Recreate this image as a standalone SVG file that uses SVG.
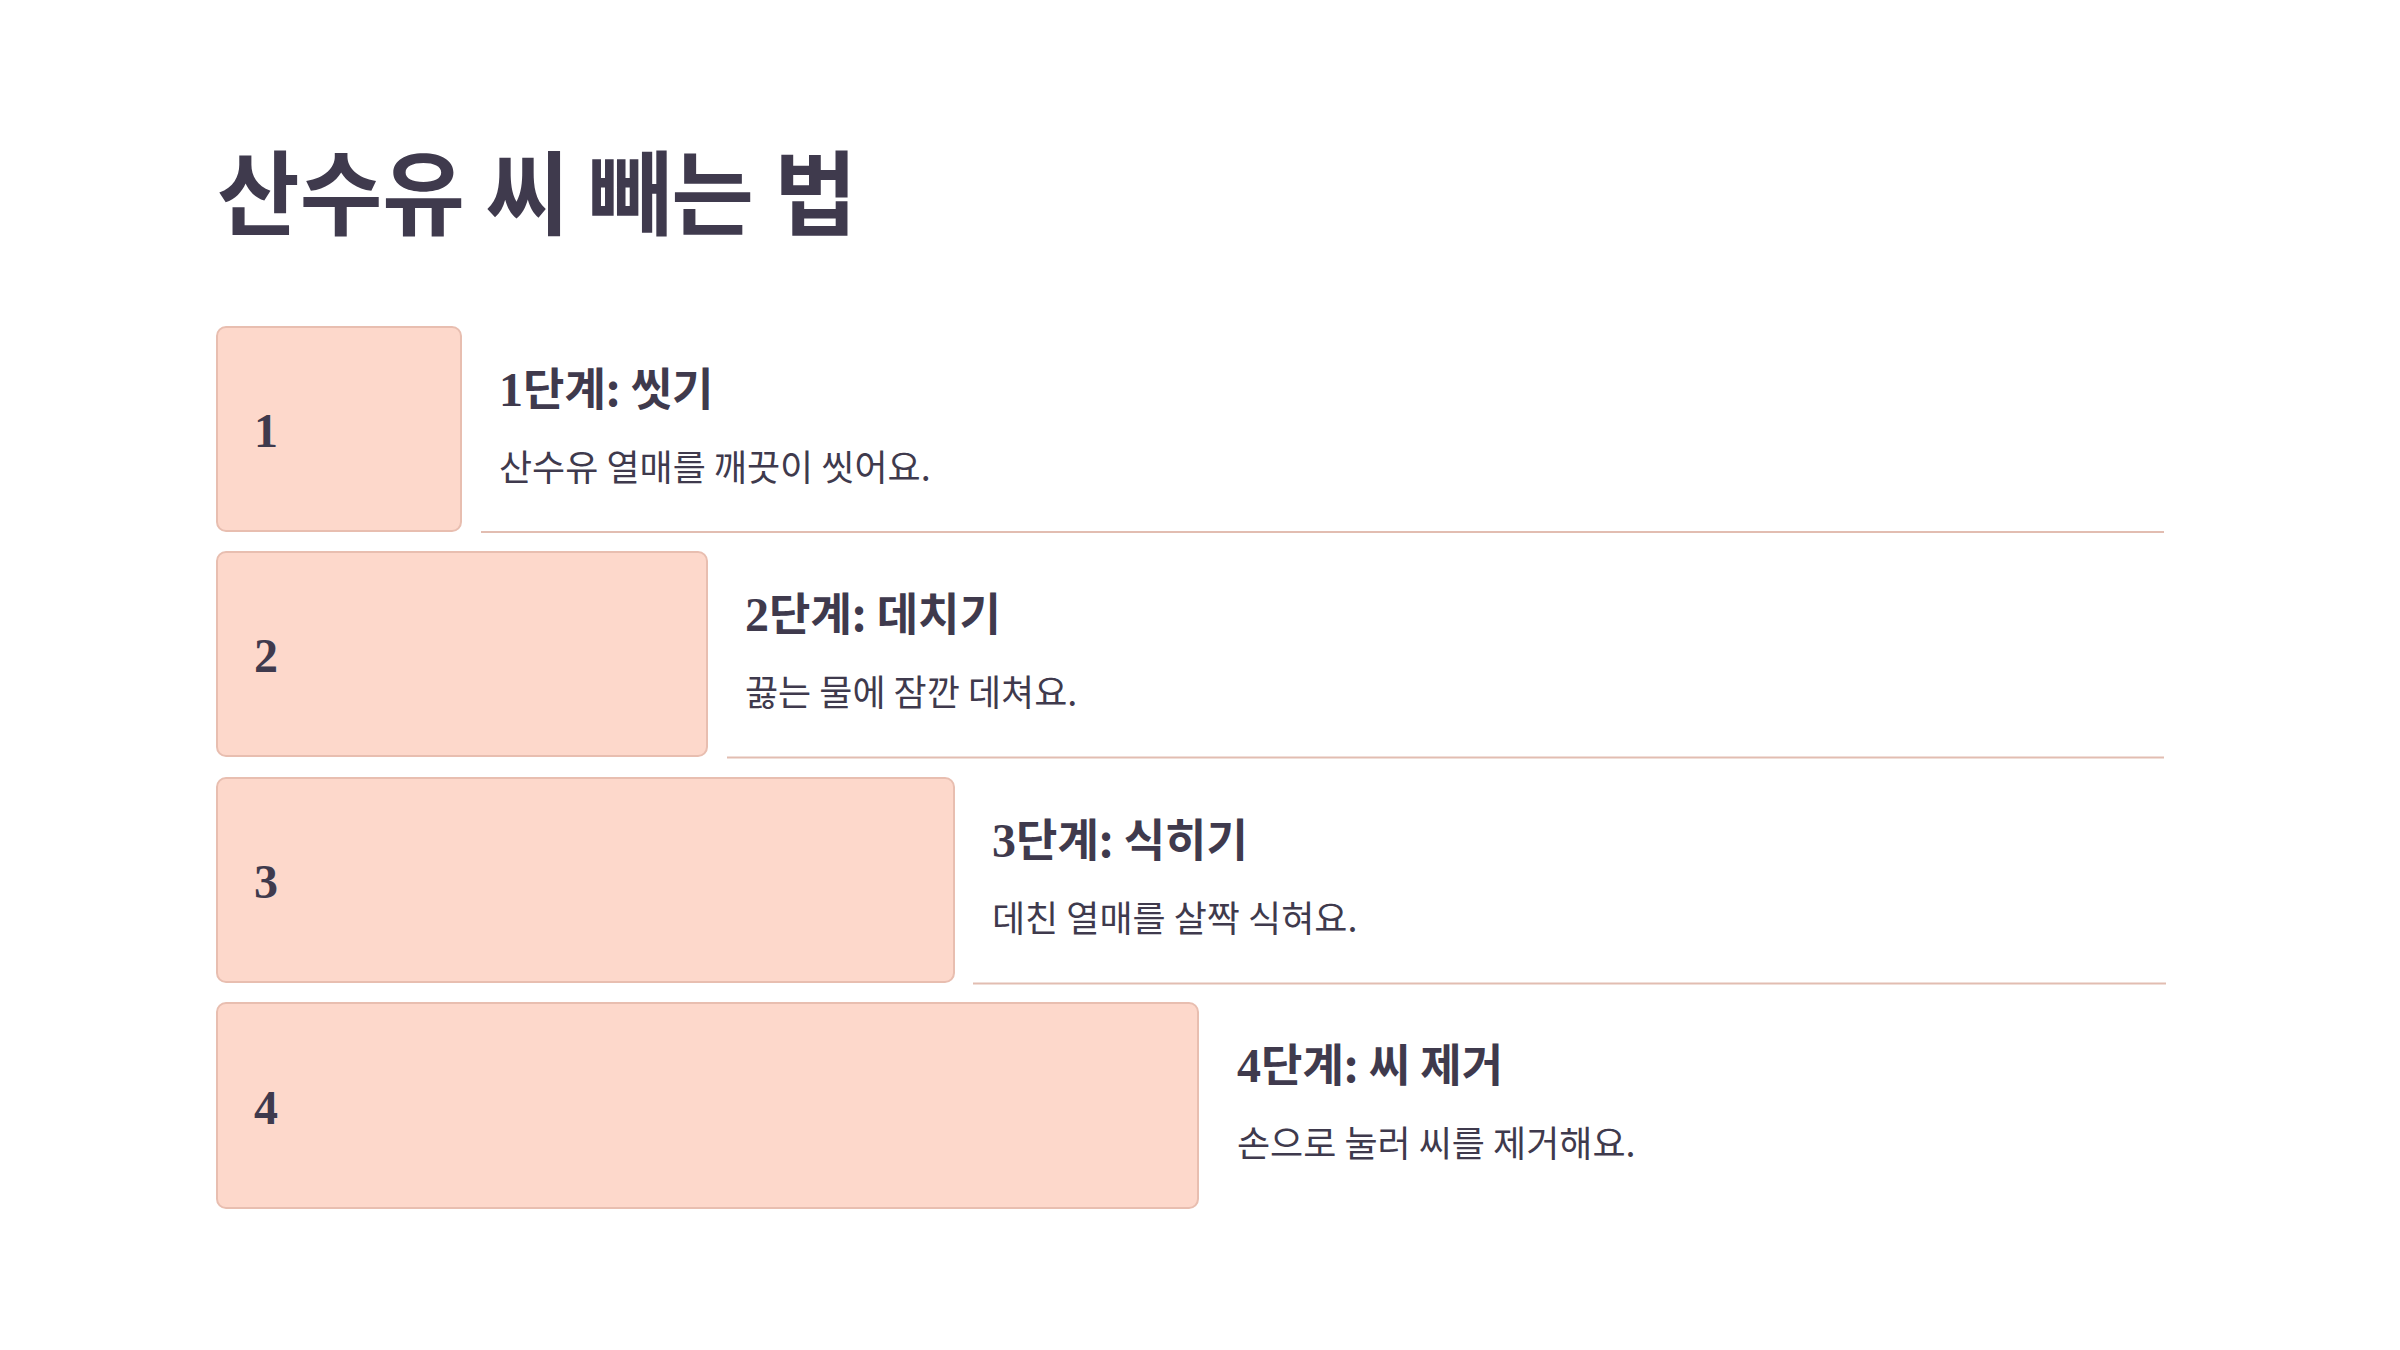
<svg xmlns="http://www.w3.org/2000/svg" width="2400" height="1350" viewBox="0 0 2400 1350">
<style>
.box{fill:#fdd8cb;stroke:#e8beb0;stroke-width:2}
.num{font-family:"Liberation Serif","DejaVu Serif",serif;font-weight:bold;font-size:48px;fill:#3f3a4d}
.head{font-family:"Noto Sans CJK KR","Noto Sans",sans-serif;font-weight:bold;font-size:45px;fill:#3f3a4d}
.dig{font-family:"Liberation Serif","DejaVu Serif",serif;font-size:48px}
.desc{font-family:"Noto Sans CJK KR","Noto Sans",sans-serif;font-size:36px;fill:#3f3a4d}
.title{font-family:"Noto Sans CJK KR","Noto Sans",sans-serif;font-weight:bold;font-size:92px;fill:#3f3a4d}
.sep{stroke:#e2bdb1;stroke-width:2}
</style>
<rect width="2400" height="1350" fill="#ffffff"/>
<text class="title" x="217" y="228" textLength="640" lengthAdjust="spacingAndGlyphs">산수유 씨 빼는 법</text>
<g id="connectors">
<line class="sep" x1="481" y1="532" x2="2164" y2="532"/>
<line class="sep" x1="727" y1="757.5" x2="2164" y2="757.5"/>
<line class="sep" x1="973" y1="983.5" x2="2166" y2="983.5"/>
</g>
<g id="step1">
<rect class="box" x="217" y="327" width="244" height="204" rx="9"/>
<text class="num" x="254" y="447">1</text>
<text class="head" x="499" y="406"><tspan class="dig">1</tspan>단계: 씻기</text>
<text class="desc" x="499" y="481">산수유 열매를 깨끗이 씻어요.</text>
</g>
<g id="step2">
<rect class="box" x="217" y="552" width="490" height="204" rx="9"/>
<text class="num" x="254" y="672">2</text>
<text class="head" x="745" y="631"><tspan class="dig">2</tspan>단계: 데치기</text>
<text class="desc" x="745" y="706">끓는 물에 잠깐 데쳐요.</text>
</g>
<g id="step3">
<rect class="box" x="217" y="778" width="737" height="204" rx="9"/>
<text class="num" x="254" y="898">3</text>
<text class="head" x="992" y="857"><tspan class="dig">3</tspan>단계: 식히기</text>
<text class="desc" x="992" y="932">데친 열매를 살짝 식혀요.</text>
</g>
<g id="step4">
<rect class="box" x="217" y="1003" width="981" height="205" rx="9"/>
<text class="num" x="254" y="1124">4</text>
<text class="head" x="1237" y="1082"><tspan class="dig">4</tspan>단계: 씨 제거</text>
<text class="desc" x="1237" y="1157">손으로 눌러 씨를 제거해요.</text>
</g>
</svg>
